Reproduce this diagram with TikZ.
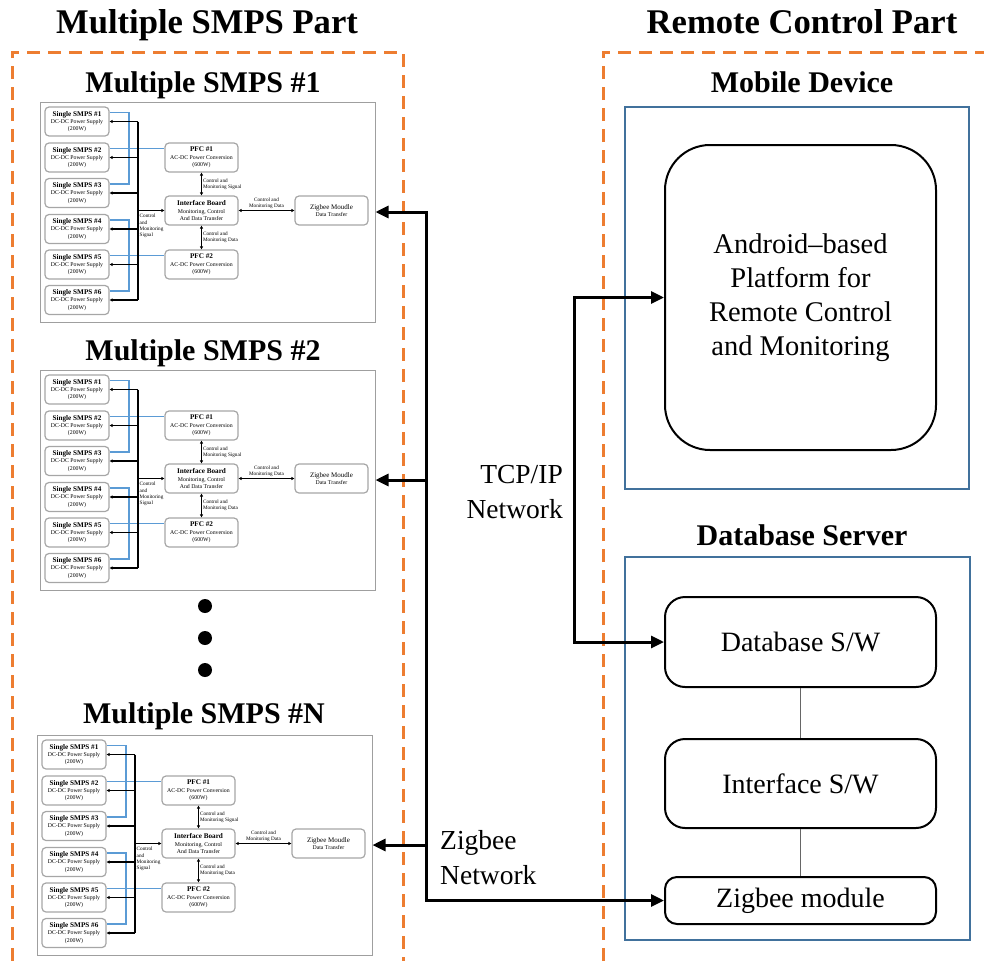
\documentclass[tikz,border=0pt]{standalone}
\usepackage{fontspec}
\setmainfont{Liberation Serif}
\usetikzlibrary{arrows.meta}

\definecolor{partorange}{RGB}{237,125,49}
\definecolor{groupblue}{RGB}{65,113,156}
\definecolor{wireblue}{RGB}{91,155,213}

\tikzset{
  parttitle/.style={font=\fontsize{34.6}{40}\selectfont\bfseries, anchor=base},
  grouptitle/.style={font=\fontsize{30}{36}\selectfont\bfseries, anchor=base},
  partline/.style={draw=partorange, line width=3pt, dash pattern=on 13pt off 8pt},
  groupbox/.style={draw=groupblue, line width=1.8pt},
  swbox/.style={draw, line width=2pt, minimum width=271pt, align=center, font=\fontsize{28}{34}\selectfont},
  netlabel/.style={font=\fontsize{27.5}{35}\selectfont, inner sep=0pt},
  netarrow/.style={line width=3pt, -{Triangle[length=13pt,width=12pt]}},
  netboth/.style={line width=3pt, {Triangle[length=13pt,width=12pt]}-{Triangle[length=13pt,width=12pt]}},
  unitframe/.style={draw=gray!75, line width=1pt, minimum width=335pt, minimum height=220pt, inner sep=0pt},
  unitbox/.style={draw=gray!70, line width=1.2pt, rounded corners=4pt, minimum height=29pt, inner sep=0pt, align=center, font=\fontsize{5.8}{7.3}\selectfont},
  tinylabel/.style={font=\fontsize{5.2}{6.2}\selectfont, inner sep=1pt},
  busline/.style={line width=1.1pt},
  busarrow/.style={line width=1.1pt, -{Triangle[length=3pt,width=3pt]}},
  busboth/.style={line width=1.1pt, {Triangle[length=3pt,width=3pt]}-{Triangle[length=3pt,width=3pt]}},
  wire/.style={draw=wireblue, line width=1.1pt},
}

% one multiple SMPS block: #1 name, #2 top left corner
\newcommand{\smpsunit}[2]{%
\begin{scope}[shift={#2}]
\node[unitframe] (#1) at (167.5,110) {};
\foreach \k/\yc in {1/19.5,2/55.5,3/91,4/127,5/162.5,6/198}
  \node[unitbox, minimum width=64pt] (#1s\k) at (37,\yc)
    {{\fontsize{7.2}{7.3}\selectfont\bfseries Single SMPS \#\k}\\DC-DC Power Supply\\(200W)};
\node[unitbox, minimum width=73pt] (#1pfca) at (161.5,55.5)
  {{\fontsize{7.2}{7.3}\selectfont\bfseries PFC \#1}\\AC-DC Power Conversion\\(600W)};
\node[unitbox, minimum width=73pt] (#1ib) at (161.5,108.5)
  {{\fontsize{7.2}{7.3}\selectfont\bfseries Interface Board}\\Monitoring, Control\\And Data Transfer};
\node[unitbox, minimum width=73pt] (#1pfcb) at (161.5,162.5)
  {{\fontsize{7.2}{7.3}\selectfont\bfseries PFC \#2}\\AC-DC Power Conversion\\(600W)};
\node[unitbox, minimum width=73pt] (#1zig) at (291.5,108.5)
  {{\fontsize{7}{7.5}\selectfont Zigbee Moudle}\\Data Transfer};
% power wires
\coordinate (#1wx) at (89,0);
\foreach \k in {1,...,6}
  \coordinate (#1w\k) at ([yshift=9pt]#1s\k.east);
\draw[wire] (#1w1) -| (#1wx |- #1w3) -- (#1w3);
\draw[wire] (#1w4) -| (#1wx |- #1w6) -- (#1w6);
\draw[wire] (#1w2) -- (#1pfca.west |- #1w2);
\draw[wire] (#1w5) -- (#1pfcb.west |- #1w5);
% signal bus
\coordinate (#1bus) at (98,0);
\draw[busline] (#1bus |- #1s1.east) -- (#1bus |- #1s6.east);
\foreach \k in {1,...,6}
  \draw[busarrow] (#1bus |- #1s\k.east) -- (#1s\k.east);
\draw[busarrow] (#1bus |- #1ib.west) -- (#1ib.west);
\node[tinylabel, anchor=north west, align=left] (#1lbus) at (98.5,111) {Control\\and\\Monitoring\\Signal};
\draw[busboth] (#1pfca) -- (#1ib) node[tinylabel, midway, right, align=left] (#1lpa) {Control and\\Monitoring Signal};
\draw[busboth] (#1ib) -- (#1pfcb) node[tinylabel, midway, right, align=left] (#1lpb) {Control and\\Monitoring Data};
\draw[busboth] (#1ib) -- (#1zig) node[tinylabel, midway, above, align=center] (#1lz) {Control and\\Monitoring Data};
\end{scope}}

\begin{document}
\begin{tikzpicture}[x=1pt,y=-1pt]
\useasboundingbox (0,0) rectangle (984,961);

% the two parts
\node[parttitle] (smpspart) at (207,33) {Multiple SMPS Part};
\node[parttitle] (remotepart) at (802,33) {Remote Control Part};
\draw[partline] (12,961) -- (12,52) -- (403,52) -- (403,961);
\draw[partline] (603,961) -- (603,52) -- (984,52);

% multiple SMPS blocks
\node[grouptitle] (titlea) at (203,92) {Multiple SMPS \#1};
\smpsunit{ua}{(40,102)}
\node[grouptitle] (titleb) at (203,360) {Multiple SMPS \#2};
\smpsunit{ub}{(40,370)}
\fill (205,606) circle (7pt);
\fill (205,638) circle (7pt);
\fill (205,670) circle (7pt);
\node[grouptitle] (titlen) at (204,723) {Multiple SMPS \#N};
\smpsunit{un}{(37,735)}

% mobile device
\node[grouptitle] (mobtitle) at (802,92) {Mobile Device};
\node[groupbox, minimum width=344pt, minimum height=382pt] (mobile) at (797,298) {};
\node[swbox, rounded corners=45pt, minimum height=305pt, font=\fontsize{28.5}{34}\selectfont] (android) at (800.5,297.5)
  {Android–based\\Platform for\\Remote Control\\and Monitoring};

% database server
\node[grouptitle] (dbtitle) at (802,545) {Database Server};
\node[groupbox, minimum width=345pt, minimum height=383pt] (dbserver) at (797.5,748.5) {};
\node[swbox, rounded corners=20pt, minimum height=90pt] (dbsw) at (800.5,642) {Database S/W};
\node[swbox, rounded corners=20pt, minimum height=89pt] (ifsw) at (800.5,783.5) {Interface S/W};
\node[swbox, rounded corners=12pt, minimum height=47pt] (zmod) at (800.5,900.5) {Zigbee module};
\draw[line width=1pt, black!60] (dbsw) -- (ifsw);
\draw[line width=1pt, black!60] (ifsw) -- (zmod);

% networks
\coordinate (zbus) at (426,0);
\coordinate (tcpbus) at (574,0);
\draw[netboth] (ua.east) -| (zbus |- zmod.west) -- (zmod.west);
\draw[netarrow] (zbus |- ub.east) -- (ub.east);
\draw[netarrow] (zbus |- un.east) -- (un.east);
\draw[netboth] (android.west) -| (tcpbus |- dbsw.west) -- (dbsw.west);
\node[netlabel, anchor=east, align=right] (tcplabel) at (563,492) {TCP/IP\\Network};
\node[netlabel, anchor=west, align=left] (ziglabel) at (440,858) {Zigbee\\Network};
\end{tikzpicture}
\end{document}
